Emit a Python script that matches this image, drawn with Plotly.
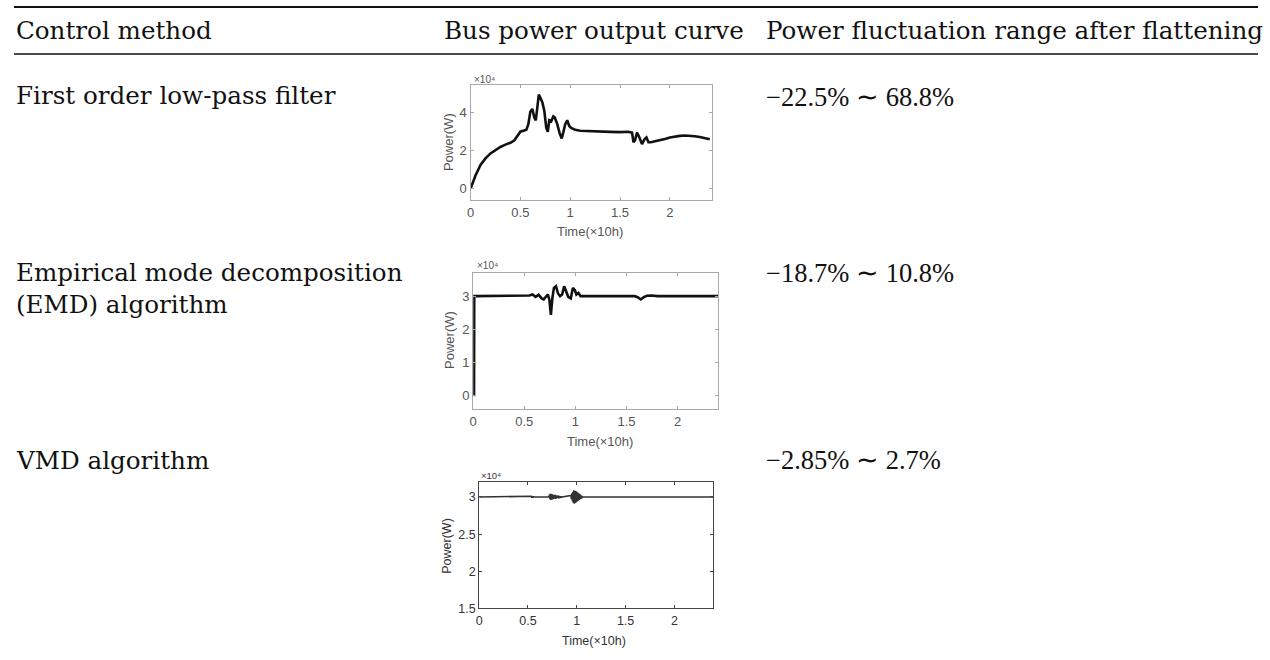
import plotly.graph_objects as go

W, H = 1270, 660

# ---------------- table text ----------------
headers = ["Control method", "Bus power output curve", "Power fluctuation range after flattening"]
methods = ["First order low-pass filter", "Empirical mode decomposition<br>(EMD) algorithm", "VMD algorithm"]
ranges = ["−22.5% ∼ 68.8%", "−18.7% ∼ 10.8%", "−2.85% ∼ 2.7%"]

# ---------------- curve data (Time in ×10h, Power in ×10^4 W) ----------------
lp_t = [0, 0.02, 0.05, 0.1, 0.15, 0.2, 0.25, 0.3, 0.35, 0.4, 0.44, 0.47, 0.5, 0.53, 0.56, 0.58,
        0.6, 0.62, 0.64, 0.655, 0.67, 0.685, 0.7, 0.72, 0.74, 0.76, 0.775, 0.79, 0.81, 0.83, 0.845,
        0.87, 0.895, 0.915, 0.93, 0.95, 0.97, 0.99, 1.01, 1.05, 1.1, 1.2, 1.3, 1.4, 1.5, 1.58, 1.62,
        1.635, 1.65, 1.67, 1.69, 1.72, 1.745, 1.765, 1.785, 1.81, 1.85, 1.9, 1.95, 2.0, 2.05, 2.1,
        2.15, 2.2, 2.25, 2.3, 2.35, 2.4]
lp_p = [0.0, 0.3, 0.7, 1.25, 1.6, 1.86, 2.05, 2.2, 2.32, 2.42, 2.55, 2.75, 3.0, 3.05, 3.1, 3.4,
        4.05, 4.2, 3.75, 3.6, 4.5, 4.95, 4.8, 4.55, 4.1, 3.2, 3.0, 3.6, 3.55, 3.8, 3.75,
        3.4, 2.9, 2.65, 2.95, 3.4, 3.6, 3.3, 3.2, 3.1, 3.05, 3.02, 3.0, 2.99, 2.98, 3.0, 2.95,
        2.45, 2.55, 2.95, 2.75, 2.35, 2.6, 2.7, 2.45, 2.45, 2.5, 2.55, 2.62, 2.7, 2.76, 2.78,
        2.8, 2.79, 2.76, 2.72, 2.66, 2.6]

emd_t = [0, 0.008, 0.01, 0.52, 0.55, 0.58, 0.61, 0.64, 0.67, 0.69, 0.71, 0.73, 0.745, 0.76, 0.775,
         0.79, 0.81, 0.83, 0.85, 0.87, 0.89, 0.91, 0.93, 0.955, 0.975, 0.995, 1.01, 1.03, 1.05,
         1.1, 1.58, 1.61, 1.64, 1.67, 1.7, 1.75, 1.8, 2.4]
emd_p = [0.0, 0.0, 3.0, 3.0, 3.02, 3.05, 2.98, 3.04, 2.93, 2.9, 2.98, 3.05, 2.9, 2.43, 2.95,
         3.25, 3.3, 3.08, 3.0, 3.05, 3.3, 3.15, 2.98, 2.93, 3.25, 3.18, 3.05, 3.1, 3.0,
         3.0, 3.0, 2.97, 2.9, 2.97, 3.01, 3.02, 3.0, 3.0]

vmd_t = [0, 0.53, 0.535, 0.54, 0.545, 0.55, 0.555, 0.56, 0.715,
         0.72, 0.725, 0.73, 0.735, 0.74, 0.745, 0.75, 0.755, 0.76, 0.765, 0.77, 0.775, 0.78,
         0.785, 0.79, 0.795, 0.8, 0.805, 0.81, 0.815, 0.82, 0.825, 0.83, 0.835, 0.84, 0.845, 0.85,
         0.94, 0.945, 0.95, 0.955, 0.96, 0.965, 0.97, 0.975, 0.98, 0.985, 0.99, 0.995, 1.0,
         1.005, 1.01, 1.015, 1.02, 1.025, 1.03, 1.035, 1.04, 1.045, 1.05, 1.055, 1.06, 1.07, 2.4]
vmd_p = [3.0, 3.0, 3.01, 2.99, 3.012, 2.99, 3.008, 3.0, 3.0,
         3.03, 2.97, 3.045, 2.96, 3.04, 2.965, 3.035, 2.97, 3.03, 2.975, 3.025, 2.98, 3.03,
         2.975, 3.02, 2.985, 3.015, 2.985, 3.02, 2.98, 3.015, 2.99, 3.01, 2.99, 3.008, 2.995, 3.0,
         3.02, 2.97, 3.05, 2.94, 3.07, 2.92, 3.09, 2.91, 3.085, 2.92, 3.08, 2.93, 3.07,
         2.94, 3.06, 2.95, 3.05, 2.96, 3.04, 2.97, 3.03, 2.98, 3.015, 2.99, 3.0, 3.0, 3.0]

x_ticks = [0, 0.5, 1, 1.5, 2]
lp_yticks = [0, 2, 4]
emd_yticks = [0, 1, 2, 3]
vmd_yticks = [1.5, 2, 2.5, 3]

# ---------------- figure ----------------
fig = go.Figure()
fig.add_trace(go.Scatter(x=lp_t, y=lp_p, mode="lines", line=dict(color="#111", width=2.6),
                         xaxis="x", yaxis="y", showlegend=False, hoverinfo="skip"))
fig.add_trace(go.Scatter(x=emd_t, y=emd_p, mode="lines", line=dict(color="#111", width=2.6),
                         xaxis="x2", yaxis="y2", showlegend=False, hoverinfo="skip"))
fig.add_trace(go.Scatter(x=vmd_t, y=vmd_p, mode="lines", line=dict(color="#333", width=1.6),
                         xaxis="x3", yaxis="y3", showlegend=False, hoverinfo="skip"))


def px_x(v):
    return v / W


def px_y(v):
    return 1 - v / H


def axis(domain, rng, tickvals, color, fsize, fcolor, anchor):
    return dict(domain=domain, range=rng, tickvals=tickvals, showline=True, mirror="ticks",
                linecolor=color, linewidth=1.2, ticks="inside", ticklen=3, tickcolor=color,
                tickfont=dict(family="Liberation Sans, Arial", size=fsize, color=fcolor),
                showgrid=False, zeroline=False, anchor=anchor, fixedrange=True)


boxes = [
    (468, 710, 86, 202, [0, 2.42], [-0.58, 5.45], lp_yticks, "#a8a8a8", 13, "#555"),
    (470.7, 716.7, 276, 413.3, [0, 2.4], [-0.42, 3.7], emd_yticks, "#a8a8a8", 13, "#555"),
    (476.7, 711.7, 487.3, 615, [0, 2.4], [1.5, 3.2], vmd_yticks, "#444", 12.5, "#333"),
]
layout = dict(width=W, height=H, margin=dict(l=0, r=0, t=0, b=0),
              paper_bgcolor="white", plot_bgcolor="white", showlegend=False)
for i, (x0, x1, y0, y1, xr, yr, yt, col, fs, fc) in enumerate(boxes):
    n = "" if i == 0 else str(i + 1)
    layout["xaxis" + n] = axis([px_x(x0), px_x(x1)], xr, x_ticks, col, fs, fc, "y" + n)
    layout["yaxis" + n] = axis([px_y(y1), px_y(y0)], yr, yt, col, fs, fc, "x" + n)
fig.update_layout(**layout)

serif = dict(family="DejaVu Serif", size=24.6, color="#111")
pct = dict(family="Liberation Serif", size=26.5, color="#111")
ann = []


def text(x, y, s, **kw):
    d = dict(x=px_x(x), y=px_y(y), xref="paper", yref="paper", text=s, showarrow=False,
             xanchor="left", yanchor="middle", align="left", font=serif)
    d.update(kw)
    ann.append(d)


# headers
text(10, 31, headers[0])
text(439, 31, headers[1])
text(762, 31, headers[2])
# rows
text(10, 97, methods[0])
text(10, 292, methods[1])
text(10, 465, methods[2])
for r, yv in zip(ranges, [98, 276, 465]):
    text(762, yv, r, font=pct)

# axis labels for the mini plots
small = dict(family="Liberation Sans, Arial", size=13, color="#555")
small3 = dict(family="Liberation Sans, Arial", size=12.5, color="#333")
xt = [(588, 234, small), (598, 446, small), (592, 648, small3)]
yt = [(446, 144, small), (447, 344, small), (445, 552, small3)]
ex = [(469, 80, small), (472, 268, small), (477, 481, small3)]
for (x, y, f) in xt:
    text(x, y, "Time(×10h)", xanchor="center", font=f)
for (x, y, f) in yt:
    text(x, y, "Power(W)", xanchor="center", textangle=-90, font=f)
for (x, y, f) in ex:
    text(x, y, "×10⁴", font=dict(family=f["family"], size=f["size"] - 3, color=f["color"]))

fig.update_layout(annotations=ann)

# table rules
fig.add_shape(type="line", xref="paper", yref="paper", x0=px_x(10), x1=px_x(1258),
              y0=px_y(7), y1=px_y(7), line=dict(color="#111", width=2))
fig.add_shape(type="line", xref="paper", yref="paper", x0=px_x(10), x1=px_x(1258),
              y0=px_y(54.5), y1=px_y(54.5), line=dict(color="#111", width=1.5))

fig.write_html("out.html", config=dict(displayModeBar=False))
